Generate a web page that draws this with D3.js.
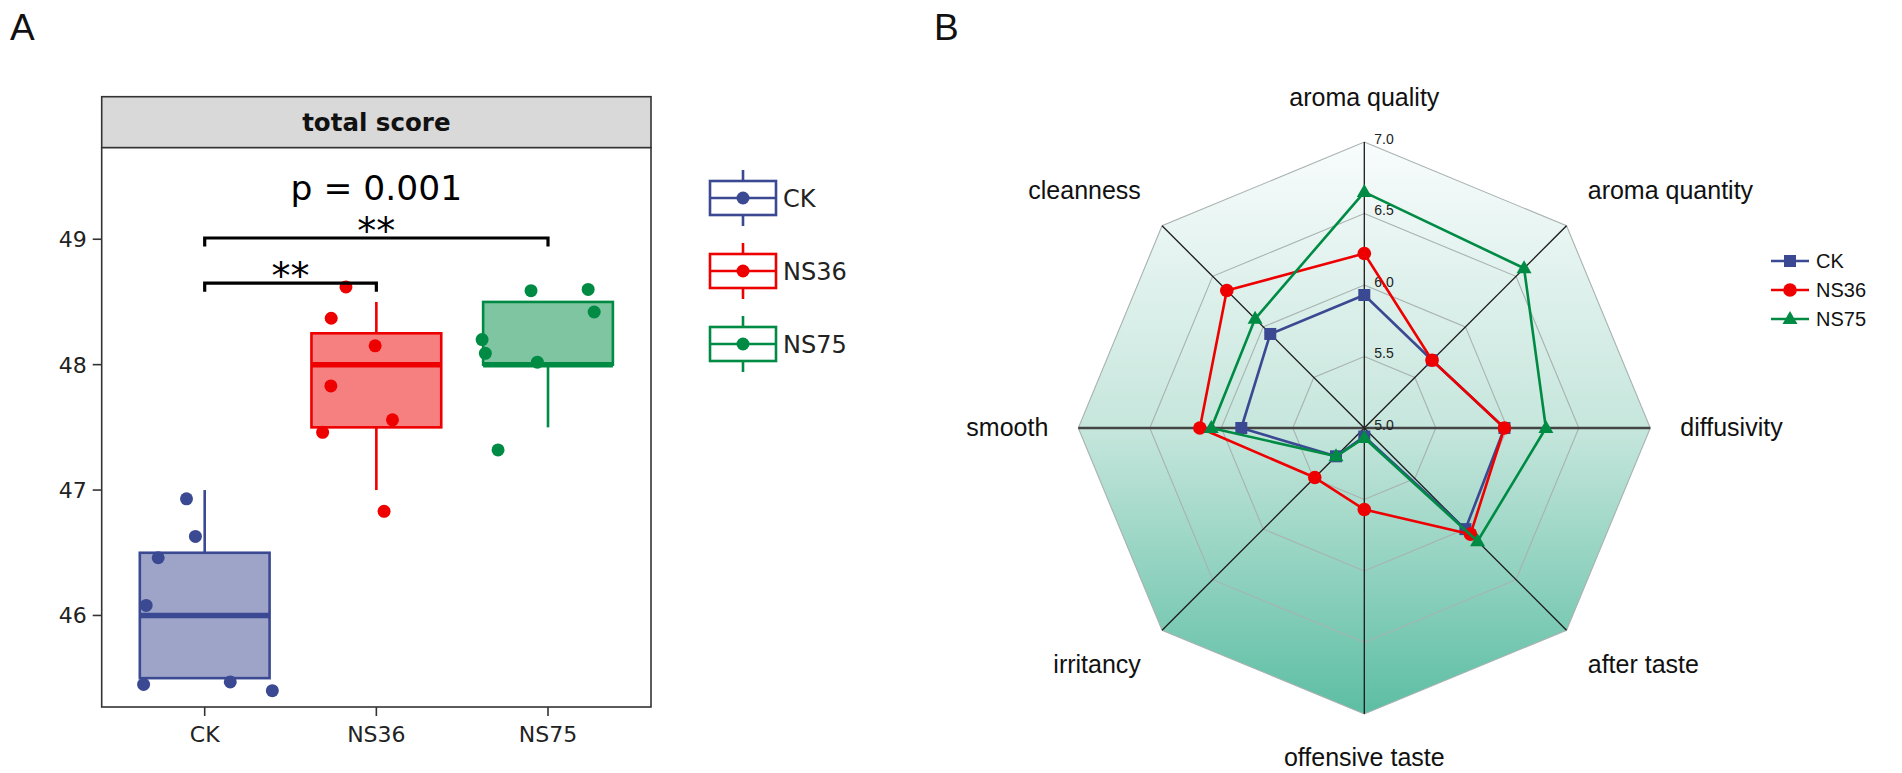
<!DOCTYPE html>
<html>
<head>
<meta charset="utf-8">
<script src="https://cdn.jsdelivr.net/npm/d3@7/dist/d3.min.js"></script>
<style>
html,body{margin:0;padding:0;background:#fff;}
svg{display:block;}
</style>
</head>
<body>
<svg id="chart" width="1902" height="773"></svg>
<script>
// ---------------- Panel A data ----------------
const groups = ["CK", "NS36", "NS75"];
const groupColors = ["#3B4992", "#EE0000", "#008B45"];
const groupFills = ["#9da4c8", "#f67f7f", "#7fc5a2"];
const boxQ1 = [45.5, 47.5, 48.0];
const boxMedian = [46.0, 48.0, 48.0];
const boxQ3 = [46.5, 48.25, 48.5];
const whiskerLow = [45.5, 47.0, 47.5];
const whiskerHigh = [47.0, 48.5, 48.5];
const ckScores = [46.93, 46.63, 46.46, 46.08, 45.45, 45.47, 45.40];
const ckJitter = [-0.106, -0.054, -0.271, -0.341, -0.356, 0.149, 0.394];
const ns36Scores = [48.62, 48.37, 48.15, 47.83, 47.56, 47.46, 46.83];
const ns36Jitter = [-0.177, -0.263, -0.007, -0.265, 0.094, -0.313, 0.045];
const ns75Scores = [48.59, 48.60, 48.42, 48.20, 48.09, 48.02, 47.32];
const ns75Jitter = [-0.099, 0.234, 0.269, -0.384, -0.365, -0.062, -0.291];
const yTicks = [46, 47, 48, 49];
const bracketPairs = [["CK", "NS36"], ["CK", "NS75"]];
const bracketLevels = [48.65, 49.01];
const bracketLabels = ["**", "**"];
const pText = "p = 0.001";
const pLevel = 49.31;
const stripTitle = "total score";

// ---------------- Panel B data ----------------
const radarAxes = ["aroma quality", "aroma quantity", "diffusivity", "after taste",
                   "offensive taste", "irritancy", "smooth", "cleanness"];
const radarSeries = ["CK", "NS36", "NS75"];
const ckRadar   = [5.93, 5.67, 5.98, 6.00, 5.06, 5.28, 5.86, 5.93];
const ns36Radar = [6.22, 5.67, 5.98, 6.05, 5.57, 5.49, 6.15, 6.36];
const ns75Radar = [6.65, 6.58, 6.27, 6.12, 5.07, 5.28, 6.07, 6.08];
const radarTicks = [5.0, 5.5, 6.0, 6.5, 7.0];
const radarShapes = ["square", "circle", "triangle"];

const svg = d3.select("#chart");
const FONT_A = "'DejaVu Sans', sans-serif";
const FONT_B = "'Liberation Sans', Arial, sans-serif";

// panel letters
svg.append("text").attr("x", 10).attr("y", 40).attr("font-family", FONT_B)
  .attr("font-size", 37).attr("fill", "#111").text("A");
svg.append("text").attr("x", 934).attr("y", 40).attr("font-family", FONT_B)
  .attr("font-size", 37).attr("fill", "#111").text("B");

// ================= PANEL A =================
const pL = 101.7, pR = 651, pT = 147.7, pB = 707, stripT = 96.7;
const x = d3.scalePoint().domain(groups).range([pL, pR]).padding(0.6);
const y = d3.scaleLinear().domain([45.27, 49.73]).range([pB, pT]);
const step = x.step();
const boxW = step * 0.756;

const gA = svg.append("g");

// strip
gA.append("rect").attr("x", pL).attr("y", stripT).attr("width", pR - pL).attr("height", pT - stripT)
  .attr("fill", "#d9d9d9").attr("stroke", "#333").attr("stroke-width", 1.6);
gA.append("text").attr("x", (pL + pR) / 2).attr("y", 131).attr("text-anchor", "middle")
  .attr("font-family", FONT_A).attr("font-weight", "bold").attr("font-size", 24.5).attr("fill", "#111")
  .text(stripTitle);

// panel background + border
gA.append("rect").attr("x", pL).attr("y", pT).attr("width", pR - pL).attr("height", pB - pT)
  .attr("fill", "#fff").attr("stroke", "#333").attr("stroke-width", 1.6);

// y axis ticks
yTicks.forEach(t => {
  gA.append("line").attr("x1", pL - 9).attr("x2", pL).attr("y1", y(t)).attr("y2", y(t))
    .attr("stroke", "#333").attr("stroke-width", 1.6);
  gA.append("text").attr("x", pL - 15).attr("y", y(t)).attr("dy", "0.36em")
    .attr("text-anchor", "end").attr("font-family", FONT_A).attr("font-size", 22).attr("fill", "#222")
    .text(t);
});
// x axis ticks
groups.forEach(g => {
  gA.append("line").attr("x1", x(g)).attr("x2", x(g)).attr("y1", pB).attr("y2", pB + 9)
    .attr("stroke", "#333").attr("stroke-width", 1.6);
  gA.append("text").attr("x", x(g)).attr("y", pB + 35).attr("text-anchor", "middle")
    .attr("font-family", FONT_A).attr("font-size", 22).attr("fill", "#222").text(g);
});

// boxes
groups.forEach((g, i) => {
  const cx = x(g);
  const col = groupColors[i];
  // whiskers
  gA.append("line").attr("x1", cx).attr("x2", cx).attr("y1", y(whiskerHigh[i])).attr("y2", y(boxQ3[i]))
    .attr("stroke", col).attr("stroke-width", 2.6);
  gA.append("line").attr("x1", cx).attr("x2", cx).attr("y1", y(boxQ1[i])).attr("y2", y(whiskerLow[i]))
    .attr("stroke", col).attr("stroke-width", 2.6);
  gA.append("rect").attr("x", cx - boxW / 2).attr("y", y(boxQ3[i]))
    .attr("width", boxW).attr("height", y(boxQ1[i]) - y(boxQ3[i]))
    .attr("fill", groupFills[i]).attr("stroke", col).attr("stroke-width", 2.6);
  gA.append("line").attr("x1", cx - boxW / 2).attr("x2", cx + boxW / 2)
    .attr("y1", y(boxMedian[i])).attr("y2", y(boxMedian[i]))
    .attr("stroke", col).attr("stroke-width", 5.5);
});

// points
const allScores = [ckScores, ns36Scores, ns75Scores];
const allJitter = [ckJitter, ns36Jitter, ns75Jitter];
groups.forEach((g, i) => {
  gA.selectAll(null).data(allScores[i].map((v, k) => ({v, j: allJitter[i][k]})))
    .enter().append("circle")
    .attr("cx", d => x(g) + d.j * step).attr("cy", d => y(d.v)).attr("r", 6.5)
    .attr("fill", groupColors[i]);
});

// brackets
bracketPairs.forEach((pair, i) => {
  const x1 = x(pair[0]), x2 = x(pair[1]), yy = y(bracketLevels[i]);
  gA.append("path").attr("d", `M${x1},${yy + 8.5}V${yy}H${x2}V${yy + 8.5}`)
    .attr("fill", "none").attr("stroke", "#000").attr("stroke-width", 3.2);
  gA.append("text").attr("x", (x1 + x2) / 2).attr("y", yy + 6).attr("text-anchor", "middle")
    .attr("font-family", FONT_A).attr("font-size", 38).attr("fill", "#000").text(bracketLabels[i]);
});
gA.append("text").attr("x", x("NS36")).attr("y", y(pLevel)).attr("text-anchor", "middle")
  .attr("font-family", FONT_A).attr("font-size", 34.5).attr("fill", "#000").text(pText);

// legend A
const legA = svg.append("g");
const legCx = 743, legY0 = 198, legStep = 73;
groups.forEach((g, i) => {
  const cy = legY0 + i * legStep, col = groupColors[i];
  legA.append("line").attr("x1", legCx).attr("x2", legCx).attr("y1", cy - 28).attr("y2", cy + 28)
    .attr("stroke", col).attr("stroke-width", 2.6);
  legA.append("rect").attr("x", legCx - 33).attr("y", cy - 17).attr("width", 66).attr("height", 34)
    .attr("fill", "#fff").attr("stroke", col).attr("stroke-width", 2.6);
  legA.append("line").attr("x1", legCx - 33).attr("x2", legCx + 33).attr("y1", cy).attr("y2", cy)
    .attr("stroke", col).attr("stroke-width", 2.6);
  legA.append("circle").attr("cx", legCx).attr("cy", cy).attr("r", 6.5).attr("fill", col);
  legA.append("text").attr("x", 783).attr("y", cy).attr("dy", "0.36em")
    .attr("font-family", FONT_A).attr("font-size", 24).attr("fill", "#222").text(g);
});

// ================= PANEL B =================
const cxR = 1364.3, cyR = 428, R = 286;
const rScale = d3.scaleLinear().domain([5, 7]).range([0, R]);
const nAx = radarAxes.length;
const ang = i => i * 2 * Math.PI / nAx;
const pt = (i, r) => [cxR + r * Math.sin(ang(i)), cyR - r * Math.cos(ang(i))];

const defs = svg.append("defs");
const grad = defs.append("linearGradient").attr("id", "radarGrad")
  .attr("gradientUnits", "userSpaceOnUse")
  .attr("x1", 0).attr("x2", 0).attr("y1", cyR - R).attr("y2", cyR + R);
grad.append("stop").attr("offset", "0%").attr("stop-color", "#f8fcfc");
grad.append("stop").attr("offset", "50%").attr("stop-color", "#c6e6dc");
grad.append("stop").attr("offset", "100%").attr("stop-color", "#5cbea3");

const gB = svg.append("g");
const ringPath = r => "M" + d3.range(nAx).map(i => pt(i, r).join(",")).join("L") + "Z";
gB.append("path").attr("d", ringPath(R)).attr("fill", "url(#radarGrad)").attr("stroke", "none");
radarTicks.filter(t => t > 5).forEach(t => {
  gB.append("path").attr("d", ringPath(rScale(t))).attr("fill", "none")
    .attr("stroke", "#a8b2b0").attr("stroke-width", 1.1);
});
// spokes
radarAxes.forEach((a, i) => {
  const [ex, ey] = pt(i, R);
  const horiz = (i === 2 || i === 6);
  gB.append("line").attr("x1", cxR).attr("y1", cyR).attr("x2", ex).attr("y2", ey)
    .attr("stroke", horiz ? "#444" : "#1a1a1a").attr("stroke-width", horiz ? 2.4 : 1.3);
});
// tick labels
radarTicks.forEach(t => {
  gB.append("text").attr("x", cxR + 10).attr("y", cyR - rScale(t) - 3).attr("dy", "0.35em")
    .attr("font-family", FONT_B).attr("font-size", 14).attr("fill", "#222").text(t.toFixed(1));
});
// axis labels
radarAxes.forEach((a, i) => {
  const [lx, ly] = pt(i, R + 30);
  const dx = Math.sin(ang(i)), dy = -Math.cos(ang(i));
  const anchor = dx > 0.1 ? "start" : (dx < -0.1 ? "end" : "middle");
  let by;
  if (dy < -0.1) by = ly - 6;
  else if (dy > 0.1) by = ly + 22;
  else by = ly + 8;
  gB.append("text").attr("x", lx).attr("y", by).attr("text-anchor", anchor)
    .attr("font-family", FONT_B).attr("font-size", 25).attr("fill", "#111").text(a);
});

function drawMarker(g, shape, px, py, col) {
  if (shape === "square") {
    g.append("rect").attr("x", px - 6).attr("y", py - 6).attr("width", 12).attr("height", 12).attr("fill", col);
  } else if (shape === "circle") {
    g.append("circle").attr("cx", px).attr("cy", py).attr("r", 6.8).attr("fill", col);
  } else {
    const s = 15;
    const h = s * Math.sqrt(3) / 2;
    g.append("path").attr("d", `M${px},${py - h * 0.62}L${px + s / 2},${py + h * 0.38}L${px - s / 2},${py + h * 0.38}Z`)
      .attr("fill", col);
  }
}

const radarData = [ckRadar, ns36Radar, ns75Radar];
const line = d3.line().curve(d3.curveLinearClosed);
radarData.forEach((vals, s) => {
  const pts = vals.map((v, i) => pt(i, rScale(v)));
  gB.append("path").attr("d", line(pts)).attr("fill", "none")
    .attr("stroke", groupColors[s]).attr("stroke-width", 2.6).attr("stroke-linejoin", "round");
  pts.forEach(p => drawMarker(gB, radarShapes[s], p[0], p[1], groupColors[s]));
});

// legend B
const legB = svg.append("g");
radarSeries.forEach((name, s) => {
  const ly = 261 + s * 29;
  legB.append("line").attr("x1", 1771).attr("x2", 1809).attr("y1", ly).attr("y2", ly)
    .attr("stroke", groupColors[s]).attr("stroke-width", 2.6);
  drawMarker(legB, radarShapes[s], 1790, ly, groupColors[s]);
  legB.append("text").attr("x", 1816).attr("y", ly).attr("dy", "0.36em")
    .attr("font-family", FONT_B).attr("font-size", 20).attr("fill", "#111").text(name);
});
</script>
</body>
</html>
